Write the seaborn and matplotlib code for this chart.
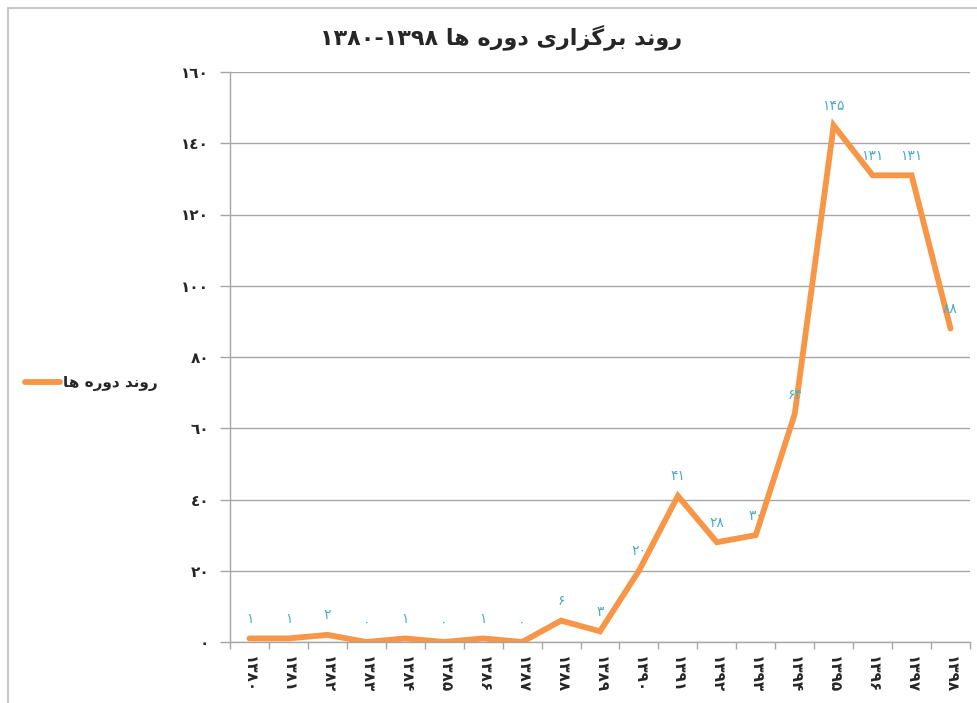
import re
import pandas as pd
import matplotlib
matplotlib.use("Agg")
import matplotlib.pyplot as plt
from matplotlib.lines import Line2D
import seaborn as sns

years = [1380, 1381, 1382, 1383, 1384, 1385, 1386, 1387, 1388, 1389,
         1390, 1391, 1392, 1393, 1394, 1395, 1396, 1397, 1398]
counts = [1, 1, 2, 0, 1, 0, 1, 0, 6, 3, 20, 41, 28, 30, 64, 145, 131, 131, 88]
y_ticks = [0, 20, 40, 60, 80, 100, 120, 140, 160]
title = "روند برگزاری دوره ها ۱۳۹۸-۱۳۸۰"
series_name = "روند دوره ها"

# tiny persian shaper: matplotlib does no arabic joining / bidi itself
FORMS = {
    'ا': ('\uFE8D', '\uFE8E', None, None),
    'ب': ('\uFE8F', '\uFE90', '\uFE91', '\uFE92'),
    'د': ('\uFEA9', '\uFEAA', None, None),
    'ر': ('\uFEAD', '\uFEAE', None, None),
    'ز': ('\uFEAF', '\uFEB0', None, None),
    'ن': ('\uFEE5', '\uFEE6', '\uFEE7', '\uFEE8'),
    'ه': ('\uFEE9', '\uFEEA', '\uFEEB', '\uFEEC'),
    'و': ('\uFEED', '\uFEEE', None, None),
    'گ': ('\uFB92', '\uFB93', '\uFB94', '\uFB95'),
    'ی': ('\uFBFC', '\uFBFD', '\uFBFE', '\uFBFF'),
}


def fa(text):
    out = []
    for i, ch in enumerate(text):
        if ch not in FORMS:
            out.append(ch)
            continue
        prev = text[i - 1] if i > 0 else ''
        nxt = text[i + 1] if i + 1 < len(text) else ''
        j_prev = prev in FORMS and FORMS[prev][2] is not None
        j_next = FORMS[ch][2] is not None and nxt in FORMS
        iso, fin, ini, med = FORMS[ch]
        if j_prev and j_next:
            out.append(med)
        elif j_prev:
            out.append(fin)
        elif j_next:
            out.append(ini)
        else:
            out.append(iso)
    vis = ''.join(out)[::-1]
    return re.sub(r'[\u06F0-\u06F9\u0660-\u0669]+', lambda m: m.group(0)[::-1], vis)


def fa_num(n):
    return str(n).translate(str.maketrans('0123456789', '۰۱۲۳۴۵۶۷۸۹'))


def ar_num(n):
    return str(n).translate(str.maketrans('0123456789', '٠١٢٣٤٥٦٧٨٩'))


df = pd.DataFrame({'year': years, 'count': counts})

sns.set_theme(style="white")
plt.rcParams['font.family'] = ['DejaVu Sans']

orange = '#F79646'
teal = '#4BACC6'
grid_c = '#A6A6A6'

fig = plt.figure(figsize=(9.77, 7.03), dpi=100)
ax = fig.add_axes([230 / 977, 1 - 642 / 703, 740 / 977, 570 / 703])

sns.lineplot(data=df, x='year', y='count', ax=ax, color=orange, linewidth=4.2,
             solid_capstyle='round', solid_joinstyle='miter', label=fa(series_name))

for x, y in zip(years, counts):
    ax.annotate(fa_num(y), (x, y), xytext=(0, 14), textcoords='offset points',
                ha='center', va='center', color=teal, fontsize=10)

ax.set_xlim(years[0] - 0.5, years[-1] + 0.5)
ax.set_ylim(0, 160)
ax.set_yticks(y_ticks)
ax.set_yticklabels([ar_num(v) for v in y_ticks], fontsize=11, fontweight='bold')
ax.set_xticks(years)
ax.set_xticklabels([fa_num(v) for v in years], rotation=-90, fontsize=11,
                   fontweight='bold')
ax.set_xticks([y - 0.5 for y in years] + [years[-1] + 0.5], minor=True)
ax.tick_params(axis='x', which='major', length=0, pad=10)
ax.tick_params(axis='x', which='minor', length=5, width=1, color=grid_c,
               direction='out', bottom=True)
ax.tick_params(axis='y', length=7, width=1, color=grid_c, direction='out',
               left=True, pad=8)
ax.set_xlabel('')
ax.set_ylabel('')

ax.grid(axis='y', color=grid_c, linewidth=1)
ax.set_axisbelow(True)
for s in ['top', 'right']:
    ax.spines[s].set_visible(False)
for s in ['left', 'bottom']:
    ax.spines[s].set_color(grid_c)
    ax.spines[s].set_linewidth(1)

leg = ax.legend(loc='center left', bbox_to_anchor=(25 / 977, 1 - 383 / 703),
                bbox_transform=fig.transFigure, frameon=False, handlelength=2.3,
                handletextpad=0.2, borderaxespad=0, borderpad=0,
                prop={'size': 11, 'weight': 'bold'})

fig.text(501 / 977, 1 - 37 / 703, fa(title), ha='center', va='center',
         fontsize=16, fontweight='bold')

# chart area border
fig.add_artist(Line2D([8 / 977, 1], [1 - 8 / 703] * 2, transform=fig.transFigure,
                      color='#C8C8C8', linewidth=1.5))
fig.add_artist(Line2D([8 / 977] * 2, [0, 1 - 8 / 703], transform=fig.transFigure,
                      color='#C8C8C8', linewidth=1.5))

fig.savefig('out.png', dpi=100)
